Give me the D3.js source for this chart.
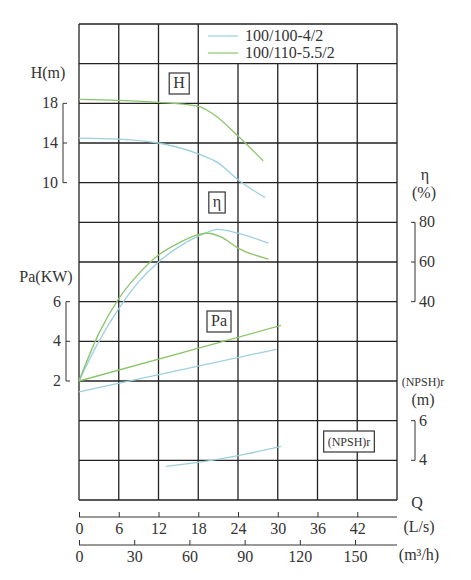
<!DOCTYPE html>
<html>
<head>
<meta charset="utf-8">
<script src="https://d3js.org/d3.v7.min.js"></script>
<style>
body { margin: 0; background: #fff; }
text { font-family: "Liberation Serif", "DejaVu Serif", "Times New Roman", serif; fill: #333; }
</style>
</head>
<body>
<script>
var series = ["100/100-4/2", "100/110-5.5/2"];
var colors = ["#9cd0df", "#8cc46a"];
// H curves [Q L/s, H m]
var headBlue = [[0, 14.5], [6, 14.4], [12, 14.0], [18, 12.9], [21, 12.0], [24, 10.3], [28.1, 8.5]];
var headGreen = [[0, 18.4], [6, 18.3], [12, 18.1], [18, 17.7], [20.3, 16.9], [24, 14.7], [27.8, 12.2]];
// efficiency [Q, %]
var effBlue = [[0, 0], [3, 20], [6, 36.5], [9, 50], [12, 60], [15, 67.5], [18, 73], [21, 76.5], [24, 74.5], [28.6, 69.5]];
var effGreen = [[0, 0], [3, 24], [6, 41.5], [9, 54], [12, 63.5], [15, 69.5], [18, 73.8], [19.5, 74.5], [21.5, 72.5], [24, 67], [28.6, 61.5]];
// shaft power [Q, kW]
var paBlue = [[0, 1.45], [29.8, 3.6]];
var paGreen = [[0, 2.0], [30.5, 4.8]];
// NPSHr [Q, m]
var npshBlue = [[13.1, 3.7], [20, 4.0], [25, 4.3], [30.5, 4.7]];
var qTicks = [0, 6, 12, 18, 24, 30, 36, 42];
var m3hTicks = [0, 30, 60, 90, 120, 150];

var svg = d3.select("body").append("svg").attr("width", 471).attr("height", 580);

var x = d3.scaleLinear().domain([0, 48]).range([79, 397]);
var xm = d3.scaleLinear().domain([0, 48 * 3.6]).range([79, 397]);
var row = (500 - 24) / 12;
var yH = d3.scaleLinear().domain([10, 18]).range([24 + 4 * row, 24 + 2 * row]);
var yE = d3.scaleLinear().domain([40, 80]).range([24 + 7 * row, 24 + 5 * row]);
var yP = d3.scaleLinear().domain([2, 6]).range([24 + 9 * row, 24 + 7 * row]);
var yN = d3.scaleLinear().domain([4, 6]).range([24 + 11 * row, 24 + 10 * row]);

// grid
var g = svg.append("g").attr("stroke", "#222").attr("stroke-width", 1.3);
d3.range(13).forEach(function(i) {
  g.append("line").attr("x1", 79).attr("x2", 397).attr("y1", 24 + i * row).attr("y2", 24 + i * row);
});
d3.range(9).forEach(function(i) {
  var top = (i >= 4 && i < 8) ? 24 + row : 24;
  g.append("line").attr("x1", x(i * 6)).attr("x2", x(i * 6)).attr("y1", top).attr("y2", 500);
});

// legend
series.forEach(function(s, i) {
  var yy = 36 + i * 17;
  svg.append("line").attr("x1", 208).attr("x2", 238).attr("y1", yy).attr("y2", yy)
    .attr("stroke", colors[i]).attr("stroke-width", 1.2);
  svg.append("text").attr("x", 245).attr("y", yy + 5).attr("font-size", 16).text(s);
});

// curves
var line = function(ys) { return d3.line().x(function(d) { return x(d[0]); }).y(function(d) { return ys(d[1]); }).curve(d3.curveMonotoneX); };
[[headBlue, yH, 0], [headGreen, yH, 1], [effBlue, yE, 0], [effGreen, yE, 1],
 [paBlue, yP, 0], [paGreen, yP, 1], [npshBlue, yN, 0]].forEach(function(c) {
  svg.append("path").datum(c[0]).attr("d", line(c[1])).attr("fill", "none")
    .attr("stroke", colors[c[2]]).attr("stroke-width", 1.3);
});

// left / right bracket axes
function bracket(scale, ticks, side, xPos) {
  var a = svg.append("g");
  var d = side === "left" ? 4 : -4;
  a.append("line").attr("x1", xPos).attr("x2", xPos)
    .attr("y1", scale(ticks[0])).attr("y2", scale(ticks[ticks.length - 1])).attr("stroke", "#333");
  ticks.forEach(function(t) {
    a.append("line").attr("x1", xPos).attr("x2", xPos + d).attr("y1", scale(t)).attr("y2", scale(t)).attr("stroke", "#333");
    a.append("text").attr("x", side === "left" ? xPos - 5 : xPos + 4).attr("y", scale(t) + 5)
      .attr("text-anchor", side === "left" ? "end" : "start").attr("font-size", 16).text(t);
  });
}
bracket(yH, [10, 14, 18], "left", 63);
bracket(yP, [2, 4, 6], "left", 66);
bracket(yE, [40, 60, 80], "right", 415);
bracket(yN, [4, 6], "right", 415);

function label(t, xx, yy, size, anchor) {
  svg.append("text").attr("x", xx).attr("y", yy).attr("font-size", size || 16)
    .attr("text-anchor", anchor || "middle").text(t);
}
label("H(m)", 48, 78);
label("Pa(KW)", 46, 282);
label("η", 425, 180);
label("(%)", 424, 198);
label("(NPSH)r", 423, 386, 12);
label("(m)", 423, 405);
label("Q", 417, 508);
label("(L/s)", 419, 532);
label("(m³/h)", 419, 560);

// boxed curve labels
[["H", 179, 83], ["η", 217, 202], ["Pa", 219, 321], ["(NPSH)r", 349, 441]].forEach(function(b) {
  var fs = b[0] === "(NPSH)r" ? 12 : 16;
  var t = svg.append("text").attr("x", b[1]).attr("y", b[2] + 5).attr("font-size", fs)
    .attr("text-anchor", "middle").text(b[0]);
  var bb = t.node().getBBox();
  svg.insert("rect", "text").attr("x", bb.x - 4).attr("y", b[2] - 10).attr("width", bb.width + 8).attr("height", 21)
    .attr("fill", "#fff").attr("stroke", "#333").attr("stroke-width", 1.2);
});

// bottom axes
var axQ = d3.axisTop(x).tickValues(qTicks).tickSize(5).tickFormat(d3.format("d"));
var gq = svg.append("g").attr("transform", "translate(0,517)").call(axQ);
gq.select(".domain").attr("d", "M79,0H397");
gq.selectAll("text").attr("y", 17).attr("font-size", 16).style("font-family", null);
var axM = d3.axisTop(xm).tickValues(m3hTicks).tickSize(5).tickFormat(d3.format("d"));
var gm = svg.append("g").attr("transform", "translate(0,545)").call(axM);
gm.select(".domain").attr("d", "M79,0H397");
gm.selectAll("text").attr("y", 17).attr("font-size", 16).style("font-family", null);
gq.attr("font-family", null); gm.attr("font-family", null);
svg.selectAll(".domain, .tick line").attr("stroke", "#333");
</script>
</body>
</html>
